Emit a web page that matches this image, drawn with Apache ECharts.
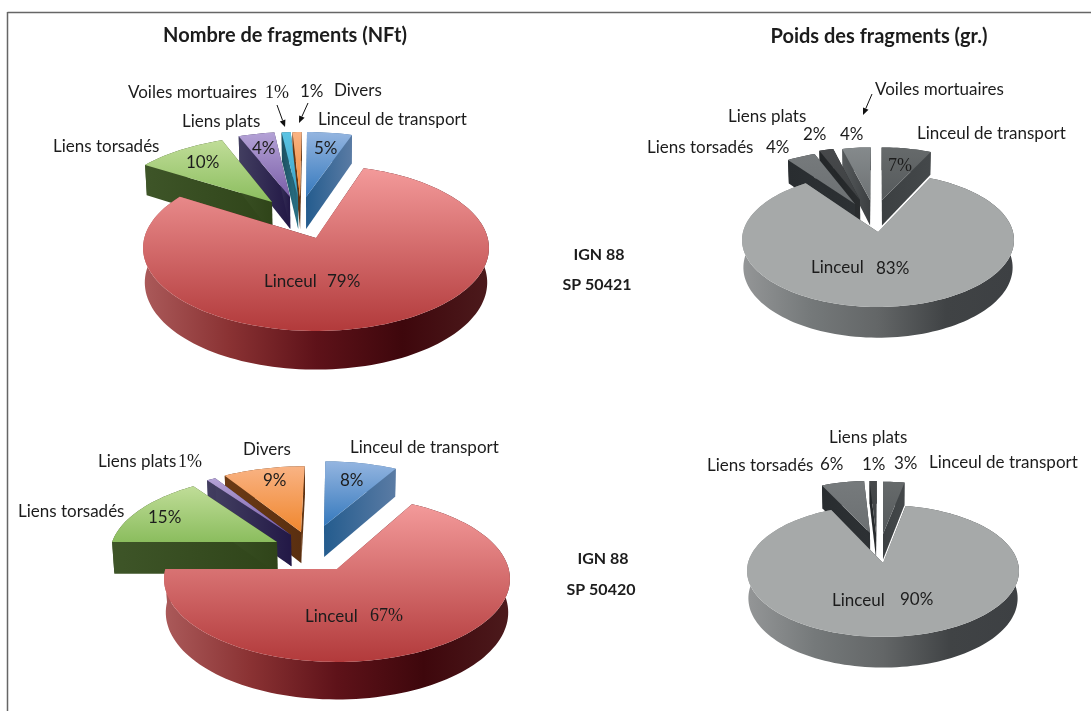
<!DOCTYPE html>
<html>
<head>
<meta charset="utf-8">
<script src="https://cdn.jsdelivr.net/npm/echarts@6/dist/echarts.min.js"></script>
<style>
html,body{margin:0;padding:0;background:#fff}
#main{width:1091px;height:711px}
</style>
</head>
<body>
<div id="main"></div>
<script>
// categories and percentages, clockwise from 12 o'clock
const catsNft421 = ['Linceul de transport','Linceul','Liens torsadés','Liens plats','Voiles mortuaires','Divers'];
const valsNft421 = [5,79,10,4,1,1];
const catsNft420 = ['Linceul de transport','Linceul','Liens torsadés','Liens plats','Divers'];
const valsNft420 = [8,67,15,1,9];
const catsPds421 = ['Linceul de transport','Linceul','Liens torsadés','Liens plats','Voiles mortuaires'];
const valsPds421 = [7,83,4,2,4];
const catsPds420 = ['Linceul de transport','Linceul','Liens torsadés','Liens plats'];
const valsPds420 = [3,90,6,1];

// palettes: top = vertical gradient, wall = horizontal gradient
const colorPal = {
  'Linceul de transport':{top:['#94b5e0','#3579bd'],wall:['#245c8e','#5a7ba4']},
  'Linceul':{top:['#f39a9a','#b23a3b'],wall:['#ab5a5a','#8a3233','#5e1219','#3e070c','#4c1a1c']},
  'Liens torsadés':{top:['#c0dd98','#8bbd5e'],wall:['#3e5528','#2f4419']},
  'Liens plats':{top:['#b4a2d6','#7a5ea8'],wall:['#423e60','#221846']},
  'Voiles mortuaires':{top:['#5cc4e4','#3aa0c4'],wall:['#1d4f60','#2a7488']},
  'Divers':{top:['#f9b384','#f0872e'],wall:['#6b3a15','#5a2f10']}
};
const greyPal = {
  'Linceul de transport':{top:['#666a6b','#565a5c'],wall:['#3c4042','#44484a']},
  'Linceul':{top:['#a6a9a9','#a6a9a9'],wall:['#949697','#75797a','#636667','#404345','#3d4043']},
  'Liens torsadés':{top:['#767a7c','#6c7072'],wall:['#292d30','#2d3134']},
  'Liens plats':{top:['#47494b','#3e4143'],wall:['#232628','#2a2d2f']},
  'Voiles mortuaires':{top:['#858a8c','#6e7274'],wall:['#55595b','#3c3f41']}
};

// apex = where each slice tip sits on screen, order = paint order back to front
const pies = [
  {cats:catsNft421,vals:valsNft421,pal:colorPal,cx:316,cy:238,r:171.7,ry:81.8,k:0.12,depth:34,
   apex:[[306,197],[316,238],[272,202],[290,197],[298,197],[300,197]],order:[5,4,3,2,0,1]},
  {cats:catsNft420,vals:valsNft420,pal:colorPal,cx:337,cy:569,r:171.7,ry:81.8,k:0.12,depth:33,
   apex:[[324,526],[337,569],[277,542],[291,535],[301,532]],order:[4,3,2,0,1]},
  {cats:catsPds421,vals:valsPds421,pal:greyPal,cx:878,cy:232,r:135,ry:66,k:0.12,depth:27,
   apex:[[882,200],[878,232],[855,204],[860,200],[870,200]],order:[4,3,2,0,1]},
  {cats:catsPds420,vals:valsPds420,pal:greyPal,cx:883,cy:563,r:135,ry:65,k:0.12,depth:27,
   apex:[[883,534],[883,563],[870,533],[876,533]],order:[3,2,0,1]}
];

// [slice index, 'n' name / 'p' percent, left x, middle y, serif]
const labels = [
  [[4,'n',128,93],[4,'p',265,93,1],[5,'p',300,92],[5,'n',334,91],[0,'n',318,120],[3,'n',182,122],[2,'n',53,147],
   [2,'p',186,163],[3,'p',252,149],[0,'p',314,149],[1,'n',264,282],[1,'p',327,282]],
  [[0,'n',350,448],[4,'n',243,450],[3,'n',98,462],[3,'p',178,462,1],[2,'n',18,512],[2,'p',148,518],[4,'p',263,481],
   [0,'p',340,481],[1,'n',305,617],[1,'p',370,616,1]],
  [[4,'n',875,90],[3,'n',728,117],[3,'p',803,135],[4,'p',840,135],[0,'n',917,134],[2,'n',647,148],[2,'p',766,148],
   [0,'p',888,166,1],[1,'n',811,268],[1,'p',876,269]],
  [[3,'n',829,438],[2,'n',707,466],[2,'p',820,465],[3,'p',862,465],[0,'p',894,464],[0,'n',929,463],[1,'n',832,601],[1,'p',900,600]]
];
const titles = [['Nombre de fragments (NFt)',285,36],['Poids des fragments (gr.)',879,37]];
const sideNotes = [['IGN 88',599,255],['SP 50421',597,285],['IGN 88',603,559],['SP 50420',601,590]];
const arrows = [[277,105,285,127],[308,103,299,123],[872,94,863,115]];

const SANS = 'Lato, "Open Sans", sans-serif';
const SERIF = '"Liberation Serif", serif';
const LOWER_SHRINK = 0.99;

function sliceAngles(vals){
  const total = vals.reduce((a,b)=>a+b,0);
  let acc = 0;
  return vals.map(v=>{ const s = acc; acc += v; return [s/total*360, acc/total*360]; });
}

function grad(colors,horizontal){
  return {type:'linear',x:0,y:0,x2:horizontal?1:0,y2:horizontal?0:1,
    colorStops:colors.map((c,i)=>({offset:i/(colors.length-1),color:c}))};
}

function pieSeries(pie){
  const angles = sliceAngles(pie.vals);
  // perspective tilt of the disc
  const project = (u,v,down)=>{
    const s = 1/(1-pie.k*v);
    return [pie.cx+pie.r*u*s*(down?LOWER_SHRINK:1), pie.cy+pie.ry*v*s+(down?pie.depth*s:0)];
  };
  const toDisc = (x,y)=>{
    const t = (y-pie.cy)/pie.ry;
    const v = t/(1+pie.k*t);
    return [(x-pie.cx)*(1-pie.k*v)/pie.r, v];
  };
  return {
    type:'custom',
    coordinateSystem:'none',
    silent:true,
    data:pie.order.map(i=>[angles[i][0],angles[i][1],i]),
    renderItem(params,api){
      const a0 = api.value(0), a1 = api.value(1), idx = api.value(2);
      const c = pie.pal[pie.cats[idx]];
      const o = toDisc(pie.apex[idx][0],pie.apex[idx][1]);
      const rim = deg=>{
        const rad = deg*Math.PI/180;
        return [o[0]+Math.sin(rad), o[1]-Math.cos(rad)];
      };
      const arc = [];
      const steps = Math.max(2,Math.ceil((a1-a0)/2));
      for(let i=0;i<=steps;i++) arc.push(rim(a0+(a1-a0)*i/steps));
      const topArc = arc.map(p=>project(p[0],p[1],false));
      const lowArc = arc.map(p=>project(p[0],p[1],true)).reverse();
      const apexTop = project(o[0],o[1],false), apexLow = project(o[0],o[1],true);
      const wallFill = grad(c.wall,true);
      const poly = (points,fill)=>({type:'polygon',shape:{points},style:{fill}});
      return {type:'group',children:[
        poly(topArc.concat(lowArc),wallFill),
        poly([apexTop,topArc[0],lowArc[lowArc.length-1],apexLow],grad(c.wall,true)),
        poly([apexTop,topArc[topArc.length-1],lowArc[0],apexLow],grad(c.wall,true)),
        poly([apexTop].concat(topArc),grad(c.top,false))
      ]};
    }
  };
}

function textEl(text,x,y,opts){
  return {type:'text',x,y,z:10,silent:true,style:Object.assign({
    text,fill:'#1c1c1c',font:'17px '+SANS,textAlign:'left',textVerticalAlign:'middle'},opts||{})};
}

function arrowEls(a){
  const [x1,y1,x2,y2] = a;
  const ang = Math.atan2(y2-y1,x2-x1), h = 7, w = 3;
  const bx = x2-h*Math.cos(ang), by = y2-h*Math.sin(ang);
  return [
    {type:'line',z:10,silent:true,shape:{x1,y1,x2:bx,y2:by},style:{stroke:'#111',lineWidth:1}},
    {type:'polygon',z:10,silent:true,shape:{points:[[x2,y2],
      [bx+w*Math.sin(ang),by-w*Math.cos(ang)],[bx-w*Math.sin(ang),by+w*Math.cos(ang)]]},style:{fill:'#111'}}
  ];
}

const graphics = [
  {type:'line',silent:true,shape:{x1:7.5,y1:12.5,x2:1091,y2:12.5},style:{stroke:'#666',lineWidth:1.5}},
  {type:'line',silent:true,shape:{x1:7.5,y1:12,x2:7.5,y2:711},style:{stroke:'#666',lineWidth:1.5}}
];
titles.forEach(t=>graphics.push(textEl(t[0],t[1],t[2],{font:'bold 20px '+SANS,textAlign:'center'})));
sideNotes.forEach(t=>graphics.push(textEl(t[0],t[1],t[2],{font:'bold 16px '+SANS,textAlign:'center'})));
labels.forEach((list,p)=>{
  list.forEach(l=>{
    const text = l[1]==='n' ? pies[p].cats[l[0]] : pies[p].vals[l[0]]+'%';
    graphics.push(textEl(text,l[2],l[3],l[4]?{font:'18px '+SERIF}:null));
  });
});
arrows.forEach(a=>graphics.push(...arrowEls(a)));

const chart = echarts.init(document.getElementById('main'));
chart.setOption({
  animation:false,
  backgroundColor:'#fff',
  series:pies.map(pieSeries),
  graphic:{elements:graphics}
});
</script>
</body>
</html>
